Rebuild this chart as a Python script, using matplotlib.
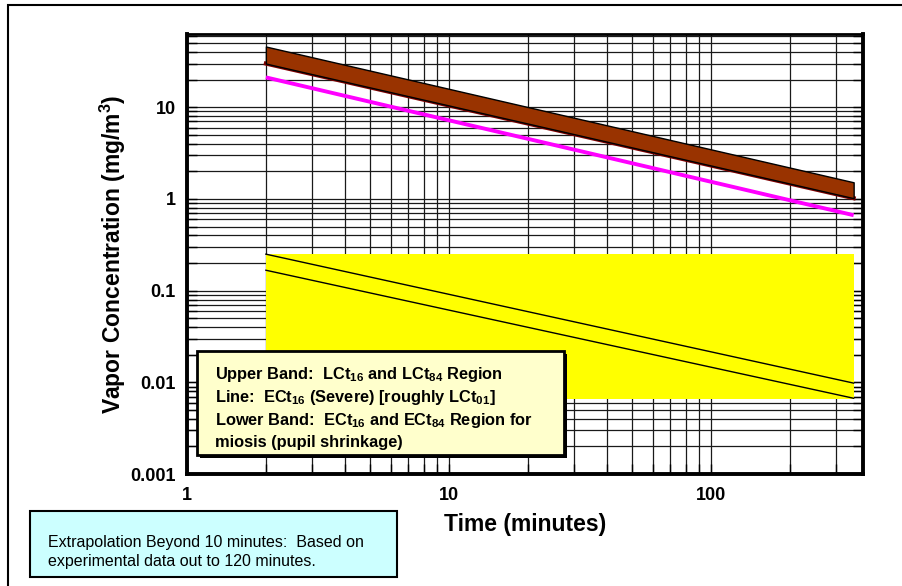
import matplotlib
matplotlib.use('Agg')
import matplotlib.pyplot as plt
from matplotlib.patches import Rectangle
from matplotlib.ticker import LogLocator, FixedLocator, FixedFormatter, NullFormatter

plt.rcParams['font.family'] = ['Liberation Sans', 'DejaVu Sans']
plt.rcParams['mathtext.fontset'] = 'custom'
plt.rcParams['mathtext.rm'] = 'Liberation Sans:bold'
plt.rcParams['mathtext.bf'] = 'Liberation Sans:bold'
plt.rcParams['mathtext.default'] = 'bf'

# Data (time in minutes, concentration in mg/m3)
t = [2, 350]
lct_high = [46, 1.52]      # upper band, top edge
lct_low = [30, 1.02]       # upper band, bottom edge
ect_severe = [21.2, 0.665]  # magenta line
miosis_high = [0.25, 0.0098]
miosis_low = [0.167, 0.0067]
miosis_region = [0.0066, 0.25]  # yellow region bounds

x_ticks = [1, 10, 100]
x_ticklabels = ['1', '10', '100']
y_ticks = [0.001, 0.01, 0.1, 1, 10]
y_ticklabels = ['0.001', '0.01', '0.1', '1', '10']

W, H = 902, 586
fig = plt.figure(figsize=(W / 100, H / 100), dpi=100)


def fx(px):
    return px / W


def fy(py):
    return 1 - py / H


ax = fig.add_axes([fx(187), fy(474), fx(863) - fx(187), fy(34) - fy(474)])
ax.set_xscale('log')
ax.set_yscale('log')
ax.set_xlim(1, 380)
ax.set_ylim(0.001, 63)

# lower band (miosis)
ax.fill_between(t, [miosis_region[0]] * 2, [miosis_region[1]] * 2,
                color='#FFFF00', lw=0, zorder=2)
ax.plot(t, miosis_high, color='black', lw=1, zorder=3)
ax.plot(t, miosis_low, color='black', lw=1, zorder=3)

# severe line
ax.plot(t, ect_severe, color='#FF00FF', lw=2.8, solid_capstyle='butt', zorder=3)

# upper band (lethal)
ax.plot(t, lct_low, color='#800000', lw=3, zorder=3)
ax.fill_between(t, lct_low, lct_high, facecolor='#993300',
                edgecolor='black', lw=1, zorder=4)

ax.xaxis.set_major_locator(FixedLocator(x_ticks))
ax.xaxis.set_major_formatter(FixedFormatter(x_ticklabels))
ax.xaxis.set_minor_locator(LogLocator(base=10, subs=range(2, 10)))
ax.xaxis.set_minor_formatter(NullFormatter())
ax.yaxis.set_major_locator(FixedLocator(y_ticks))
ax.yaxis.set_major_formatter(FixedFormatter(y_ticklabels))
ax.yaxis.set_minor_locator(LogLocator(base=10, subs=range(2, 10)))
ax.yaxis.set_minor_formatter(NullFormatter())

ax.grid(True, which='both', color='#1a1a1a', lw=0.9)
ax.set_axisbelow(True)
ax.tick_params(which='both', direction='in', length=7, width=1,
               left=True, right=True, top=False, bottom=True)
ax.tick_params(axis='x', pad=9, labelsize=13)
ax.tick_params(axis='y', pad=8, labelsize=13)
for lab in ax.get_xticklabels() + ax.get_yticklabels():
    lab.set_fontweight('bold')

for side in ['left', 'bottom', 'right']:
    ax.spines[side].set_linewidth(2.8)
ax.spines['top'].set_linewidth(2)

ax.set_xlabel('Time (minutes)', fontsize=16.5, fontweight='bold')
ax.set_ylabel('Vapor Concentration (mg/m$^3$)', fontsize=16.5, fontweight='bold')
ax.xaxis.set_label_coords(0.5, -0.089)
ax.yaxis.set_label_coords(-0.087, 0.5)

# outer frame
fig.add_artist(Rectangle((fx(8), -0.2), 1.5, fy(5) + 0.2, transform=fig.transFigure,
                         fill=False, edgecolor='black', lw=1.5))

# legend box with shadow
fig.add_artist(Rectangle((fx(200), fy(458)), fx(564) - fx(197), fy(351) - fy(455),
                         transform=fig.transFigure, facecolor='black',
                         edgecolor='black', lw=0, zorder=5))
fig.add_artist(Rectangle((fx(197), fy(455)), fx(564) - fx(197), fy(351) - fy(455),
                         transform=fig.transFigure, facecolor='#FFFFCC',
                         edgecolor='black', lw=2, zorder=6))
legend_lines = [
    'Upper Band:  LCt$_{16}$ and LCt$_{84}$ Region',
    'Line:  ECt$_{16}$ (Severe) [roughly LCt$_{01}$]',
    'Lower Band:  ECt$_{16}$ and ECt$_{84}$ Region for',
    'miosis (pupil shrinkage)',
]
for i, line in enumerate(legend_lines):
    fig.text(fx(215), fy(375 + i * 22.5), line, fontsize=11.8, fontweight='bold',
             ha='left', va='center', zorder=7)

# note box
fig.add_artist(Rectangle((fx(30), fy(577)), fx(397) - fx(30), fy(511) - fy(577),
                         transform=fig.transFigure, facecolor='#CCFFFF',
                         edgecolor='black', lw=1.5, zorder=5))
fig.text(fx(48), fy(552), 'Extrapolation Beyond 10 minutes:  Based on\nexperimental data out to 120 minutes.',
         fontsize=11.5, ha='left', va='center', linespacing=1.35, zorder=7)

plt.savefig('out.png', dpi=100)
plt.close()
